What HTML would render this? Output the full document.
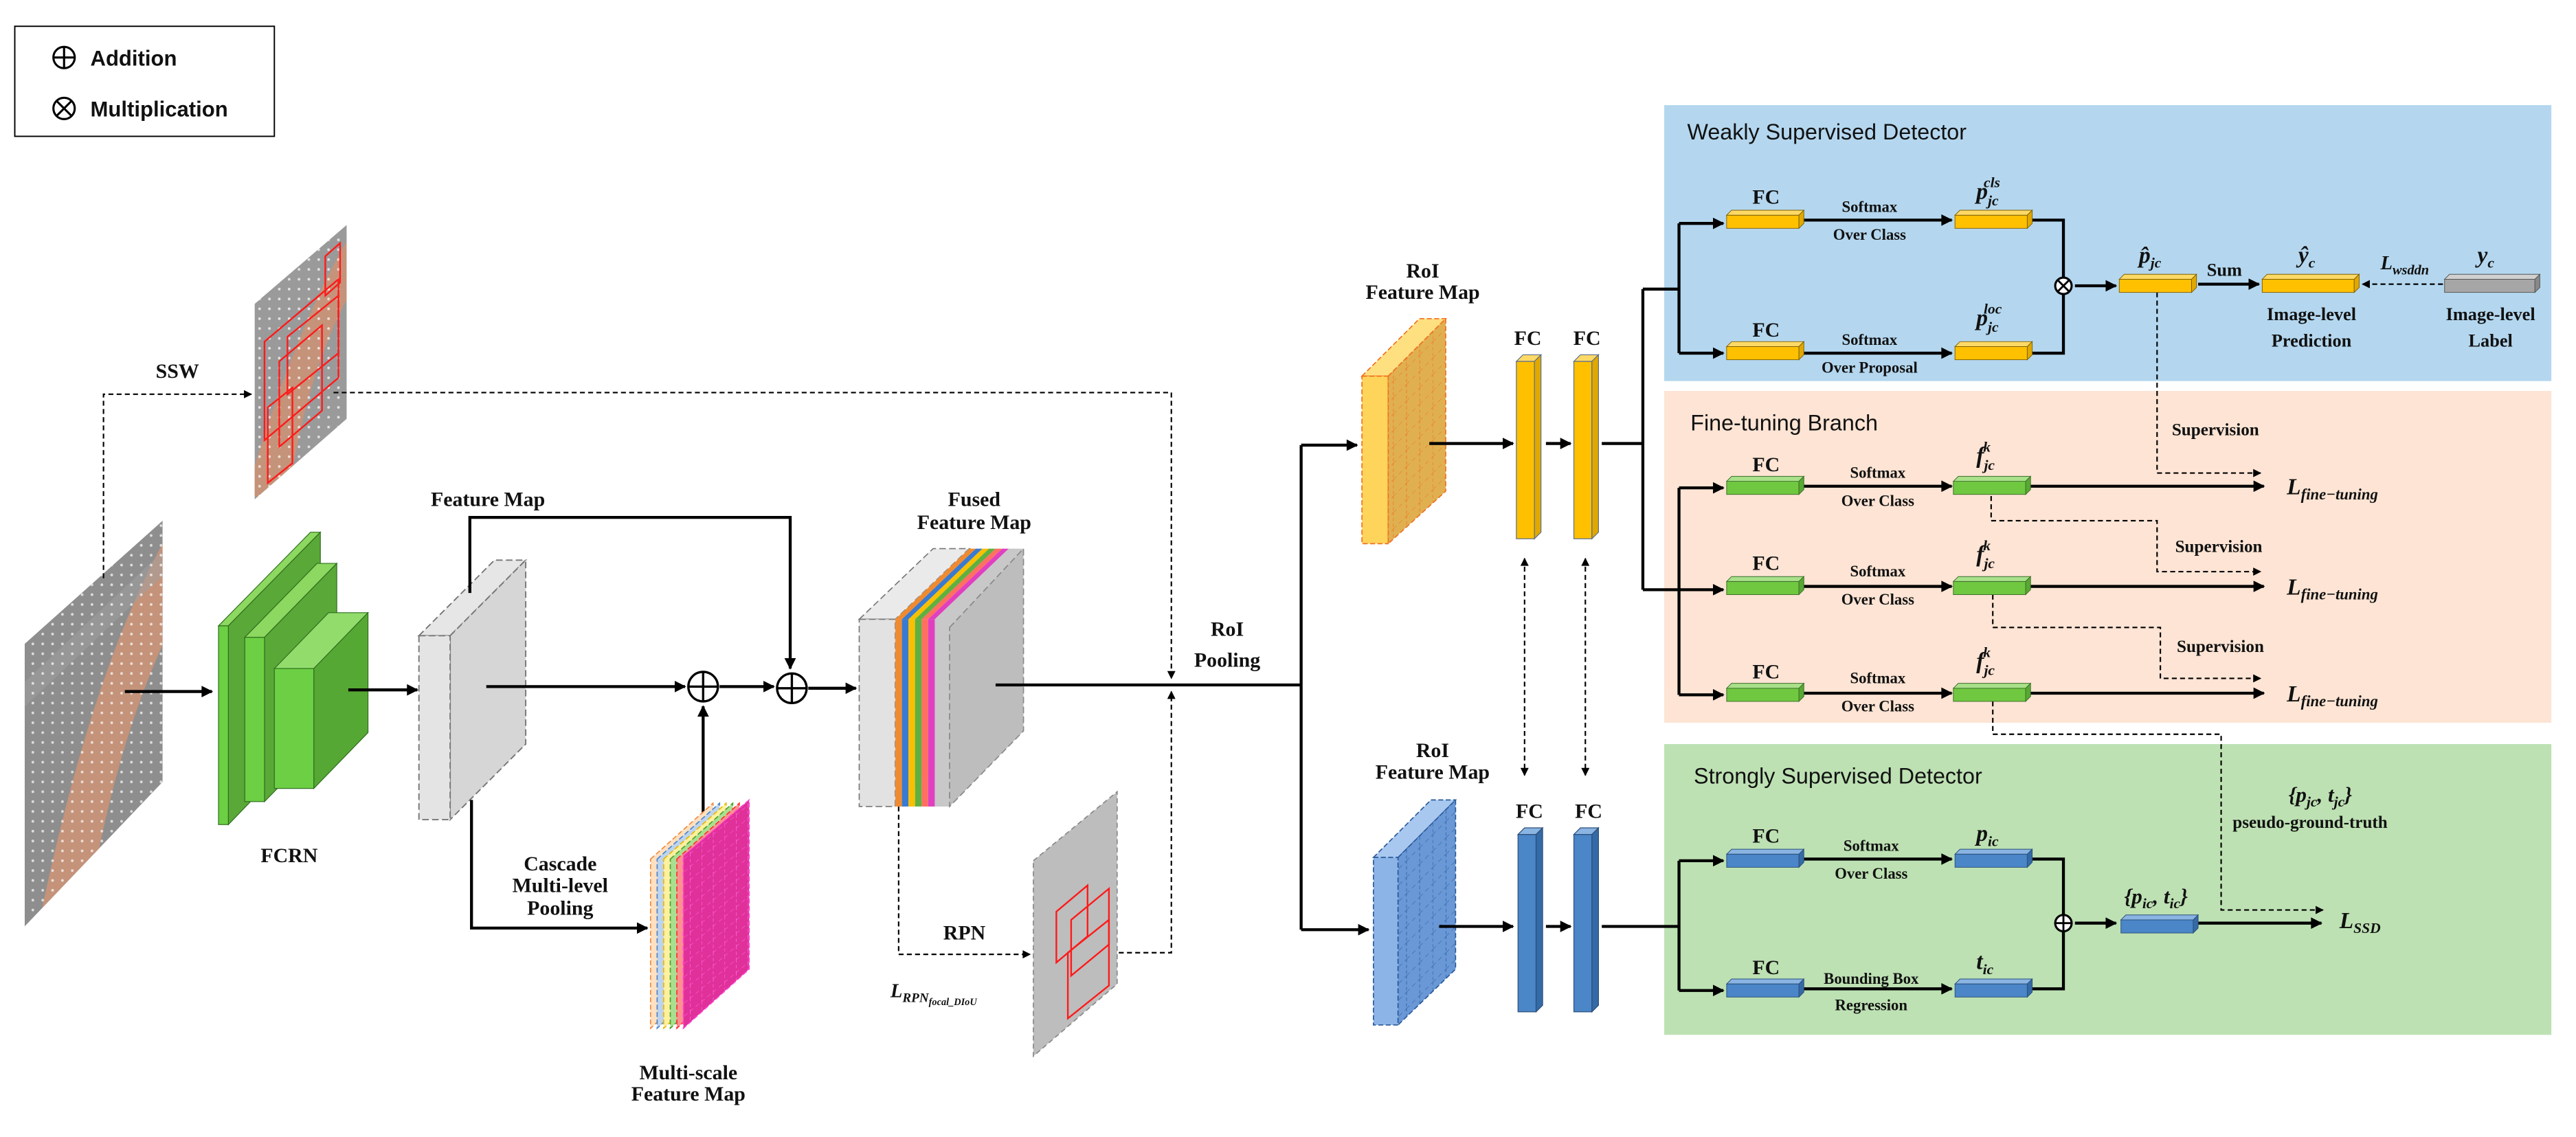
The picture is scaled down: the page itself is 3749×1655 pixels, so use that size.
<!DOCTYPE html>
<html><head><meta charset="utf-8"><style>
html,body{margin:0;padding:0;background:#fff;}
svg{display:block;}
.s{font-family:"Liberation Serif",serif;font-weight:bold;fill:#111;}
.a{font-family:"Liberation Sans",sans-serif;fill:#111;}
.i{font-family:"Liberation Serif",serif;font-weight:bold;font-style:italic;fill:#111;}
</style></head><body>
<svg width="3749" height="1655" viewBox="0 0 1568 692.2" preserveAspectRatio="none" xmlns="http://www.w3.org/2000/svg">
<defs>
<marker id="ar" viewBox="0 0 10 10" refX="9" refY="5" markerUnits="userSpaceOnUse" markerWidth="8" markerHeight="7" orient="auto"><path d="M0,0 L10,5 L0,10 Z" fill="#000"/></marker>
<marker id="ad" viewBox="0 0 10 10" refX="9" refY="5" markerUnits="userSpaceOnUse" markerWidth="6" markerHeight="5" orient="auto"><path d="M0,0 L10,5 L0,10 Z" fill="#000"/></marker>
<marker id="ads" viewBox="0 0 10 10" refX="1" refY="5" markerUnits="userSpaceOnUse" markerWidth="6" markerHeight="5" orient="auto"><path d="M10,0 L0,5 L10,10 Z" fill="#000"/></marker>
<clipPath id="c1"><polygon points="15,392 99,317 99,476 15,564"/></clipPath>
<clipPath id="c2"><polygon points="155,185 211,137 211,255 155,304"/></clipPath>
<g id="hbY"><rect x="0" y="-3" width="44" height="8" fill="#ffc000" stroke="#7f6000" stroke-width="0.4"/><polygon points="0,-3 3,-6 47,-6 44,-3" fill="#ffd966" stroke="#7f6000" stroke-width="0.4"/><polygon points="44,-3 47,-6 47,2 44,5" fill="#e0a800" stroke="#7f6000" stroke-width="0.4"/></g>
<g id="hbG"><rect x="0" y="-3" width="44" height="8" fill="#70c840" stroke="#3c6e2a" stroke-width="0.4"/><polygon points="0,-3 3,-6 47,-6 44,-3" fill="#a9e08a" stroke="#3c6e2a" stroke-width="0.4"/><polygon points="44,-3 47,-6 47,2 44,5" fill="#58a832" stroke="#3c6e2a" stroke-width="0.4"/></g>
<g id="hbB"><rect x="0" y="-3" width="44" height="8" fill="#4a86c8" stroke="#2c4f78" stroke-width="0.4"/><polygon points="0,-3 3,-6 47,-6 44,-3" fill="#8ab4e2" stroke="#2c4f78" stroke-width="0.4"/><polygon points="44,-3 47,-6 47,2 44,5" fill="#346aa6" stroke="#2c4f78" stroke-width="0.4"/></g>
<g id="hbK"><rect x="0" y="-3" width="55" height="8" fill="#a6a6a6" stroke="#555" stroke-width="0.4"/><polygon points="0,-3 3,-6 58,-6 55,-3" fill="#d0d0d0" stroke="#555" stroke-width="0.4"/><polygon points="55,-3 58,-6 58,2 55,5" fill="#888" stroke="#555" stroke-width="0.4"/></g>
<g id="hbY2"><rect x="0" y="-3" width="56" height="8" fill="#ffc000" stroke="#7f6000" stroke-width="0.4"/><polygon points="0,-3 3,-6 59,-6 56,-3" fill="#ffd966" stroke="#7f6000" stroke-width="0.4"/><polygon points="56,-3 59,-6 59,2 56,5" fill="#e0a800" stroke="#7f6000" stroke-width="0.4"/></g>
<g id="vbY"><rect x="0" y="0" width="11" height="108" fill="#ffc000" stroke="#5a6e8a" stroke-width="0.5"/><polygon points="0,0 4,-4 15,-4 11,0" fill="#ffd966" stroke="#5a6e8a" stroke-width="0.5"/><polygon points="11,0 15,-4 15,104 11,108" fill="#e0a800" stroke="#5a6e8a" stroke-width="0.5"/></g>
<g id="vbB"><rect x="0" y="0" width="11" height="108" fill="#4a86c8" stroke="#2c4f78" stroke-width="0.5"/><polygon points="0,0 4,-4 15,-4 11,0" fill="#8ab4e2" stroke="#2c4f78" stroke-width="0.5"/><polygon points="11,0 15,-4 15,104 11,108" fill="#346aa6" stroke="#2c4f78" stroke-width="0.5"/></g>
<pattern id="gridO" width="8" height="10" patternUnits="userSpaceOnUse" patternTransform="skewY(-45)"><path d="M0,0 V10 M0,0 H8" stroke="#f07020" stroke-width="0.6" stroke-dasharray="2 1.5" fill="none"/></pattern>
<pattern id="gridB" width="8" height="10" patternUnits="userSpaceOnUse" patternTransform="skewY(-45)"><path d="M0,0 V10 M0,0 H8" stroke="#2a5a9a" stroke-width="0.6" stroke-dasharray="2 1.5" fill="none"/></pattern>
<pattern id="gridP" width="7" height="8" patternUnits="userSpaceOnUse" patternTransform="skewY(-40)"><path d="M0,0 V8 M0,0 H7" stroke="#ff66dd" stroke-width="0.6" stroke-dasharray="2 1.5" fill="none"/></pattern>
<pattern id="dots" width="6" height="6" patternUnits="userSpaceOnUse"><rect width="6" height="6" fill="none"/><circle cx="2" cy="2" r="0.8" fill="#fff" opacity="0.7"/></pattern>
<linearGradient id="img" x1="0" y1="0" x2="1" y2="1"><stop offset="0" stop-color="#7d7d7d"/><stop offset="0.35" stop-color="#b5b5b5"/><stop offset="0.5" stop-color="#c99a80"/><stop offset="0.75" stop-color="#c8957a"/><stop offset="1" stop-color="#a8a8a8"/></linearGradient>
</defs>

<!-- panels -->
<rect x="1013" y="64" width="540" height="168" fill="#b4d7ef"/>
<rect x="1013" y="238" width="540" height="202" fill="#fde4d4"/>
<rect x="1013" y="453" width="540" height="177" fill="#bde1b3"/>
<text x="1027" y="85" class="a" font-size="13.5">Weakly Supervised Detector</text>
<text x="1029" y="262" class="a" font-size="13.5">Fine-tuning Branch</text>
<text x="1031" y="477" class="a" font-size="13.5">Strongly Supervised Detector</text>

<!-- legend -->
<rect x="9" y="16" width="158" height="67" fill="#fff" stroke="#000" stroke-width="0.8"/>
<g fill="none" stroke="#000" stroke-width="1.3"><circle cx="39" cy="35" r="6.5"/><path d="M32.5,35 H45.5 M39,28.5 V41.5"/><circle cx="39" cy="66" r="6.5"/><path d="M34.4,61.4 L43.6,70.6 M43.6,61.4 L34.4,70.6"/></g>
<text x="55" y="40" class="a" font-size="13" font-weight="bold">Addition</text>
<text x="55" y="71" class="a" font-size="13" font-weight="bold">Multiplication</text>

<!-- input image -->
<g clip-path="url(#c1)">
<rect x="10" y="310" width="95" height="260" fill="#8e8e8e"/>
<path d="M20,580 C40,480 65,390 105,320 L105,380 C80,430 60,500 50,580 Z" fill="#c4937a"/>
<path d="M10,420 L105,330 L105,345 L10,435Z" fill="#a0a0a0" opacity="0.5"/>
<rect x="10" y="310" width="95" height="260" fill="url(#dots)"/>
</g>
<!-- SSW image -->
<g clip-path="url(#c2)">
<rect x="150" y="130" width="65" height="180" fill="#9a9a9a"/>
<path d="M150,300 C165,250 185,190 215,140 L215,175 C195,210 180,260 175,310 Z" fill="#c4937a"/>
<rect x="150" y="130" width="65" height="180" fill="url(#dots)"/>
</g>
<g fill="none" stroke="#ff1a1a" stroke-width="1">
<polygon points="161,208 206,170 206,230 161,268"/>
<polygon points="170,220 196,198 196,250 170,272"/>
<polygon points="175,205 206,180 206,215 175,240"/>
<polygon points="198,156 207,148 207,172 198,180"/>
<polygon points="163,248 178,236 178,282 163,294"/>
</g>
<text x="108" y="230" class="s" font-size="12.5" text-anchor="middle">SSW</text>

<!-- dashed SSW paths -->
<g fill="none" stroke="#000" stroke-width="0.9" stroke-dasharray="3 2">
<path d="M63,352 V240 H153" marker-end="url(#ad)"/>
<path d="M203,239 H713 V413" marker-end="url(#ad)"/>
<path d="M671,580 H713 V421" marker-end="url(#ad)"/>
<path d="M547,491 V581 H627" marker-end="url(#ad)"/>
</g>

<!-- FCRN -->
<g stroke="#2f6e1e" stroke-width="0.5">
<polygon points="133,381 189,324 195,324 139,381" fill="#8cd860"/>
<polygon points="139,381 195,324 195,444 139,502" fill="#5aa838"/>
<rect x="133" y="381" width="6" height="121" fill="#6ccf44"/>
<polygon points="149,388 193,343 205,343 161,388" fill="#8cd860"/>
<polygon points="161,388 205,343 205,443 161,488" fill="#5aa838"/>
<rect x="149" y="388" width="12" height="100" fill="#6ccf44"/>
<polygon points="167,407 200,373 224,373 191,407" fill="#92dc6c"/>
<polygon points="191,407 224,373 224,446 191,480" fill="#56a834"/>
<rect x="167" y="407" width="24" height="73" fill="#6ccf44"/>
</g>
<text x="176" y="525" class="s" font-size="12.5" text-anchor="middle">FCRN</text>

<!-- Feature map -->
<g stroke="#777" stroke-width="0.8" stroke-dasharray="4 2">
<polygon points="255,387 301,341 320,341 274,387" fill="#e6e6e6"/>
<polygon points="274,387 320,341 320,453 274,499" fill="#d6d6d6"/>
<rect x="255" y="387" width="19" height="112" fill="#e4e4e4"/>
</g>
<text x="297" y="308" class="s" font-size="12.5" text-anchor="middle">Feature Map</text>

<!-- main black lines -->
<g fill="none" stroke="#000" stroke-width="1.8">
<path d="M76,421 H129" marker-end="url(#ar)"/>
<path d="M212,420 H254" marker-end="url(#ar)"/>
<path d="M286,361 V315 H481 V407" marker-end="url(#ar)"/>
<path d="M296,418 H417" marker-end="url(#ar)"/>
<path d="M438,418 H471" marker-end="url(#ar)"/>
<path d="M492,419 H521" marker-end="url(#ar)"/>
<path d="M287,487 V565 H394" marker-end="url(#ar)"/>
<path d="M428,500 V430" marker-end="url(#ar)"/>
<path d="M792,271 V566"/>
<path d="M792,271 H826" marker-end="url(#ar)"/>
<path d="M792,566 H833" marker-end="url(#ar)"/>
</g>
<g fill="#fff" stroke="#000" stroke-width="1.4"><circle cx="428" cy="418" r="9"/><circle cx="482" cy="419" r="9"/></g>
<g stroke="#000" stroke-width="1.4"><path d="M419,418 H437 M428,409 V427 M473,419 H491 M482,410 V428"/></g>
<text x="341" y="530" class="s" font-size="12.5" text-anchor="middle">Cascade</text>
<text x="341" y="543" class="s" font-size="12.5" text-anchor="middle">Multi-level</text>
<text x="341" y="557" class="s" font-size="12.5" text-anchor="middle">Pooling</text>

<!-- multi-scale feature map -->
<g stroke-width="0.7" stroke-dasharray="3 1.5">
<polygon points="396,523 434,489 434,591 396,626" fill="#ffe0c0" stroke="#f08a40"/>
<polygon points="400,523 438,489 438,591 400,626" fill="#bcd4f0" stroke="#4a86c8"/>
<polygon points="404,523 442,489 442,591 404,626" fill="#fff0a0" stroke="#e8b800"/>
<polygon points="408,523 446,489 446,591 408,626" fill="#a8e090" stroke="#50a030"/>
<polygon points="412,523 450,489 450,591 412,626" fill="#ff9090" stroke="#ff3030"/>
<polygon points="416,521 456,487 456,590 416,626" fill="#e0309a" stroke="#ff40d0"/>
<polygon points="416,521 456,487 456,590 416,626" fill="url(#gridP)" stroke="none"/>
</g>
<text x="419" y="657" class="s" font-size="12.5" text-anchor="middle">Multi-scale</text>
<text x="419" y="670" class="s" font-size="12.5" text-anchor="middle">Feature Map</text>

<!-- fused feature map -->
<g stroke="#777" stroke-width="0.7">
<polygon points="523,377 568,334 590,334 545,377" fill="#eaeaea" stroke-dasharray="4 2"/>
<rect x="523" y="377" width="22" height="114" fill="#e2e2e2" stroke-dasharray="4 2"/>
<polygon points="545,377 590,334 590,448 545,491" fill="#e2e2e2" stroke="none"/>
</g>
<g stroke="none">
<polygon points="545,377 590,334 594,334 549,377" fill="#f08a30"/><rect x="545" y="377" width="4" height="114" fill="#f08a30"/>
<polygon points="549,377 594,334 598,334 553,377" fill="#3a7ad0"/><rect x="549" y="377" width="4" height="114" fill="#3a7ad0"/>
<polygon points="553,377 598,334 602,334 557,377" fill="#f8c000"/><rect x="553" y="377" width="4" height="114" fill="#f8c000"/>
<polygon points="557,377 602,334 606,334 561,377" fill="#60b040"/><rect x="557" y="377" width="4" height="114" fill="#60b040"/>
<polygon points="561,377 606,334 610,334 565,377" fill="#ff7060"/><rect x="561" y="377" width="4" height="114" fill="#ff7060"/>
<polygon points="565,377 610,334 614,334 569,377" fill="#e040c0"/><rect x="565" y="377" width="4" height="114" fill="#e040c0"/>
</g>
<polygon points="569,377 614,334 623,334 578,382 578,491 569,491" fill="#c8c8c8"/>
<polygon points="578,382 623,334 623,445 578,491" fill="#bdbdbd" stroke="#888" stroke-width="0.7" stroke-dasharray="4 2"/>
<path d="M606,417 H792" stroke="#000" stroke-width="1.8"/>
<text x="593" y="308" class="s" font-size="12.5" text-anchor="middle">Fused</text>
<text x="593" y="322" class="s" font-size="12.5" text-anchor="middle">Feature Map</text>
<text x="747" y="387" class="s" font-size="12.5" text-anchor="middle">RoI</text>
<text x="747" y="406" class="s" font-size="12.5" text-anchor="middle">Pooling</text>

<!-- RPN -->
<polygon points="629,524 680,482 680,599 629,643" fill="#bdbdbd" stroke="#888" stroke-width="0.7" stroke-dasharray="3 2"/>
<g fill="none" stroke="#ff1a1a" stroke-width="1"><polygon points="643,555 662,539 662,570 643,586"/><polygon points="652,560 675,541 675,575 652,594"/><polygon points="650,580 675,560 675,600 650,620"/></g>
<text x="587" y="572" class="s" font-size="12.5" text-anchor="middle">RPN</text>
<text x="542" y="607" class="i" font-size="12">L<tspan font-size="8" dy="3">RPN</tspan><tspan font-size="6" dy="2">focal_DIoU</tspan></text>

<!-- RoI feature maps -->
<g stroke="#f07020" stroke-width="0.7" stroke-dasharray="3 1.5">
<polygon points="829,229 864,194 880,194 845,229" fill="#ffe080"/>
<rect x="829" y="229" width="16" height="102" fill="#ffd45a"/>
<polygon points="845,229 880,194 880,299 845,331" fill="#e0b050"/>
<polygon points="845,229 880,194 880,299 845,331" fill="url(#gridO)" stroke="none"/>
</g>
<text x="866" y="169" class="s" font-size="12.5" text-anchor="middle">RoI</text>
<text x="866" y="182" class="s" font-size="12.5" text-anchor="middle">Feature Map</text>
<g stroke="#2a5a9a" stroke-width="0.7" stroke-dasharray="3 1.5">
<polygon points="836,522 871,487 886,487 851,522" fill="#a8c8f0"/>
<rect x="836" y="522" width="15" height="102" fill="#8cb4e6"/>
<polygon points="851,522 886,487 886,590 851,624" fill="#6a98d6"/>
<polygon points="851,522 886,487 886,590 851,624" fill="url(#gridB)" stroke="none"/>
</g>
<text x="872" y="461" class="s" font-size="12.5" text-anchor="middle">RoI</text>
<text x="872" y="474" class="s" font-size="12.5" text-anchor="middle">Feature Map</text>

<use href="#vbY" x="923" y="220"/><use href="#vbY" x="958" y="220"/>
<use href="#vbB" x="924" y="508"/><use href="#vbB" x="958" y="508"/>
<g class="s" font-size="12.5" text-anchor="middle"><text x="930" y="210">FC</text><text x="966" y="210">FC</text><text x="931" y="498">FC</text><text x="967" y="498">FC</text></g>
<g fill="none" stroke="#000" stroke-width="0.9" stroke-dasharray="3 2">
<path d="M928,340 V472" marker-start="url(#ads)" marker-end="url(#ad)"/>
<path d="M965,340 V472" marker-start="url(#ads)" marker-end="url(#ad)"/>
</g>

<g fill="none" stroke="#000" stroke-width="1.8">
<path d="M870,270 H921" marker-end="url(#ar)"/>
<path d="M941,270 H956" marker-end="url(#ar)"/>
<path d="M975,270 H1000 M1000,176 V359 M1000,176 H1022 M1022,136 V215"/>
<path d="M1022,136 H1049" marker-end="url(#ar)"/>
<path d="M1022,215 H1049" marker-end="url(#ar)"/>
<path d="M1000,359 H1049" marker-end="url(#ar)"/>
<path d="M1022,297 V423"/>
<path d="M1022,297 H1049" marker-end="url(#ar)"/>
<path d="M1022,423 H1049" marker-end="url(#ar)"/>
<path d="M876,564 H921" marker-end="url(#ar)"/>
<path d="M941,564 H956" marker-end="url(#ar)"/>
<path d="M975,564 H1022 M1022,524 V603"/>
<path d="M1022,524 H1049" marker-end="url(#ar)"/>
<path d="M1022,603 H1049" marker-end="url(#ar)"/>
<path d="M1098,134 H1188" marker-end="url(#ar)"/>
<path d="M1098,215 H1188" marker-end="url(#ar)"/>
<path d="M1237,134 H1256 V215 H1237"/>
<path d="M1263,174 H1288" marker-end="url(#ar)"/>
<path d="M1338,173 H1375" marker-end="url(#ar)"/>
<path d="M1098,296 H1188" marker-end="url(#ar)"/>
<path d="M1098,357 H1188" marker-end="url(#ar)"/>
<path d="M1098,422 H1188" marker-end="url(#ar)"/>
<path d="M1236,296 H1378" marker-end="url(#ar)"/>
<path d="M1236,357 H1378" marker-end="url(#ar)"/>
<path d="M1236,422 H1378" marker-end="url(#ar)"/>
<path d="M1098,523 H1188" marker-end="url(#ar)"/>
<path d="M1098,602 H1188" marker-end="url(#ar)"/>
<path d="M1237,523 H1256 V602 H1237"/>
<path d="M1263,562 H1288" marker-end="url(#ar)"/>
<path d="M1338,562 H1413" marker-end="url(#ar)"/>
</g>
<g fill="#fff" stroke="#000" stroke-width="1.3"><circle cx="1256" cy="174" r="5"/><circle cx="1256" cy="562" r="5"/></g>
<path d="M1252.5,170.5 L1259.5,177.5 M1259.5,170.5 L1252.5,177.5 M1251,562 H1261 M1256,557 V567" stroke="#000" stroke-width="1.2"/>

<g fill="none" stroke="#000" stroke-width="0.9" stroke-dasharray="3 2">
<path d="M1487,173 H1438" marker-end="url(#ad)"/>
<path d="M1313,178 V288 H1376" marker-end="url(#ad)"/>
<path d="M1212,302 V317 H1313 V348 H1376" marker-end="url(#ad)"/>
<path d="M1213,362 V382 H1315 V413 H1376" marker-end="url(#ad)"/>
<path d="M1213,427 V447 H1352 V554 H1414" marker-end="url(#ad)"/>
</g>

<use href="#hbY" x="1051" y="134"/><use href="#hbY" x="1051" y="214"/>
<use href="#hbY" x="1190" y="134"/><use href="#hbY" x="1190" y="214"/>
<use href="#hbY" x="1290" y="173"/><use href="#hbY2" x="1377" y="173"/><use href="#hbK" x="1488" y="173"/>
<use href="#hbG" x="1051" y="296"/><use href="#hbG" x="1051" y="357"/><use href="#hbG" x="1051" y="422"/>
<use href="#hbG" x="1189" y="296"/><use href="#hbG" x="1189" y="357"/><use href="#hbG" x="1189" y="422"/>
<use href="#hbB" x="1051" y="523"/><use href="#hbB" x="1051" y="602"/>
<use href="#hbB" x="1190" y="523"/><use href="#hbB" x="1190" y="602"/>
<use href="#hbB" x="1291" y="563"/>

<g class="s" text-anchor="middle">
<g font-size="12.5"><text x="1075" y="124">FC</text><text x="1075" y="205">FC</text><text x="1075" y="287">FC</text><text x="1075" y="347">FC</text><text x="1075" y="413">FC</text><text x="1075" y="513">FC</text><text x="1075" y="593">FC</text></g>
<g font-size="9.5">
<text x="1138" y="129">Softmax</text><text x="1138" y="146">Over Class</text>
<text x="1138" y="210">Softmax</text><text x="1138" y="227">Over Proposal</text>
<text x="1143" y="291">Softmax</text><text x="1143" y="308">Over Class</text>
<text x="1143" y="351">Softmax</text><text x="1143" y="368">Over Class</text>
<text x="1143" y="416">Softmax</text><text x="1143" y="433">Over Class</text>
<text x="1139" y="518">Softmax</text><text x="1139" y="535">Over Class</text>
<text x="1139" y="599">Bounding Box</text><text x="1139" y="615">Regression</text>
</g>
<g font-size="11">
<text x="1354" y="168">Sum</text>
<text x="1407" y="195">Image-level</text><text x="1407" y="211">Prediction</text>
<text x="1516" y="195">Image-level</text><text x="1516" y="211">Label</text>
</g>
<g font-size="10.5" text-anchor="start">
<text x="1322" y="265">Supervision</text>
<text x="1324" y="336">Supervision</text>
<text x="1325" y="397">Supervision</text>
<text x="1359" y="504">pseudo-ground-truth</text>
</g>
</g>
<g class="i" font-size="14">
<text x="1203" y="121">p<tspan font-size="9" dy="4">jc</tspan><tspan font-size="9" dx="-9" dy="-11">cls</tspan></text>
<text x="1203" y="198">p<tspan font-size="9" dy="4">jc</tspan><tspan font-size="9" dx="-9" dy="-11">loc</tspan></text>
<text x="1302" y="160">p̂<tspan font-size="9" dy="3">jc</tspan></text>
<text x="1399" y="160">ŷ<tspan font-size="9" dy="3">c</tspan></text>
<text x="1508" y="160">y<tspan font-size="9" dy="3">c</tspan></text>
<text x="1449" y="164" font-size="12">L<tspan font-size="8.5" dy="3">wsddn</tspan></text>
<text x="1203" y="282">f<tspan font-size="9" dy="4">jc</tspan><tspan font-size="9" dx="-7" dy="-11">k</tspan></text>
<text x="1203" y="342">f<tspan font-size="9" dy="4">jc</tspan><tspan font-size="9" dx="-7" dy="-11">k</tspan></text>
<text x="1203" y="407">f<tspan font-size="9" dy="4">jc</tspan><tspan font-size="9" dx="-7" dy="-11">k</tspan></text>
<text x="1203" y="512">p<tspan font-size="9" dy="3">ic</tspan></text>
<text x="1203" y="590">t<tspan font-size="9" dy="3">ic</tspan></text>
<text x="1392" y="301">L<tspan font-size="9.5" dy="3">fine−tuning</tspan></text>
<text x="1392" y="362">L<tspan font-size="9.5" dy="3">fine−tuning</tspan></text>
<text x="1392" y="427">L<tspan font-size="9.5" dy="3">fine−tuning</tspan></text>
<text x="1424" y="565">L<tspan font-size="9" dy="3">SSD</tspan></text>
<text x="1293" y="550" font-size="13">{p<tspan font-size="9" dy="3">ic</tspan><tspan dy="-3">, t</tspan><tspan font-size="9" dy="3">ic</tspan><tspan dy="-3">}</tspan></text>
<text x="1393" y="488" font-size="13">{p<tspan font-size="9" dy="3">jc</tspan><tspan dy="-3">, t</tspan><tspan font-size="9" dy="3">jc</tspan><tspan dy="-3">}</tspan></text>
</g>
</svg>
</body></html>
